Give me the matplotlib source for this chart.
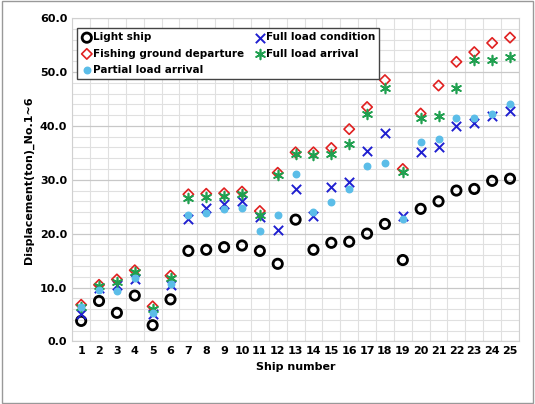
import matplotlib
matplotlib.use("Agg")
import matplotlib.pyplot as plt
import numpy as np

ships = list(range(1, 26))
light = [3.8,7.5,5.3,8.5,3.0,7.8,16.8,17.0,17.5,17.8,16.8,14.4,22.6,17.0,18.3,18.5,20.0,21.8,15.1,24.6,26.0,28.0,28.3,29.8,30.2]
full_cond = [5.0,10.0,10.5,11.5,5.0,10.5,22.8,24.7,25.5,26.1,23.0,20.6,28.2,23.3,28.7,29.5,35.4,38.6,23.3,35.1,36.0,40.0,40.6,41.9,42.8]
fishing = [6.8,10.5,11.5,13.2,6.5,12.2,27.3,27.4,27.5,27.8,24.2,31.3,35.1,35.1,35.9,39.4,43.5,48.5,32.0,42.3,47.5,51.9,53.7,55.4,56.4]
full_arr = [6.3,10.2,11.0,12.8,6.0,11.8,26.7,26.8,27.0,27.4,23.5,30.8,34.8,34.6,34.7,36.6,42.3,47.1,31.4,41.5,41.9,47.1,52.2,52.3,52.8]
partial = [6.3,9.5,9.3,11.8,5.3,10.6,23.5,23.8,24.5,24.8,20.5,23.5,31.0,24.0,25.8,28.3,32.5,33.2,22.8,37.1,37.6,41.4,41.5,42.2,44.0]

plt.rcParams['font.family'] = ['DejaVu Sans']
fig = plt.figure(figsize=(5.35, 4.04), dpi=100)
ax = fig.add_axes([0.135, 0.155, 0.835, 0.80])
fig.patches.append(plt.Rectangle((0.003, 0.003), 0.994, 0.994, transform=fig.transFigure,
                                 fill=False, edgecolor='#999999', lw=1))

h1 = ax.scatter(ships, light, s=45, facecolors='none', edgecolors='black', linewidths=2, label='Light ship', zorder=3)
h2 = ax.scatter(ships, full_cond, s=45, marker='x', color='#1f1fd0', linewidths=1.4, label='Full load condition', zorder=3)
h3 = ax.scatter(ships, fishing, s=28, marker='D', facecolors='none', edgecolors='#e02020', linewidths=1.2, label='Fishing ground departure', zorder=3)
h4 = ax.scatter(ships, full_arr, s=50, marker=(6, 2, 0), color='#20a050', linewidths=1.2, label='Full load arrival', zorder=3)
h5 = ax.scatter(ships, partial, s=22, color='#5bbde8', label='Partial load arrival', zorder=3)

ax.set_xlim(0.5, 25.5)
ax.set_ylim(0, 60)
ax.set_xticks(ships)
ax.set_xticks(np.arange(0.5, 26, 1), minor=True)
ax.set_yticks(np.arange(0, 61, 10))
ax.set_yticks(np.arange(0, 61, 2), minor=True)
ax.set_yticklabels([f"{v:.1f}" for v in range(0, 61, 10)])
ax.grid(which='major', axis='y', color='#c8c8c8', lw=0.9)
ax.grid(which='minor', color='#e0e0e0', lw=0.8)
ax.tick_params(which='both', length=0)
ax.tick_params(labelsize=8)
for lbl in ax.get_xticklabels() + ax.get_yticklabels():
    lbl.set_fontweight('bold')
for s in ax.spines.values():
    s.set_color('#d0d0d0')
ax.set_xlabel('Ship number', fontsize=8, fontweight='bold')
ax.set_ylabel('Displacement(ton)_No.1~6', fontsize=8, fontweight='bold')
leg = ax.legend([h1, h3, h5, h2, h4],
                ['Light ship', 'Fishing ground departure', 'Partial load arrival',
                 'Full load condition', 'Full load arrival'],
                loc='upper left', ncol=2, prop={'weight': 'bold', 'size': 7.5},
                handletextpad=0.1, columnspacing=1.0, borderpad=0.4, labelspacing=0.6,
                fancybox=False, edgecolor='#444444', framealpha=1, handlelength=1,
                bbox_to_anchor=(0.0, 0.985))
fig.savefig('out.png', dpi=100)
